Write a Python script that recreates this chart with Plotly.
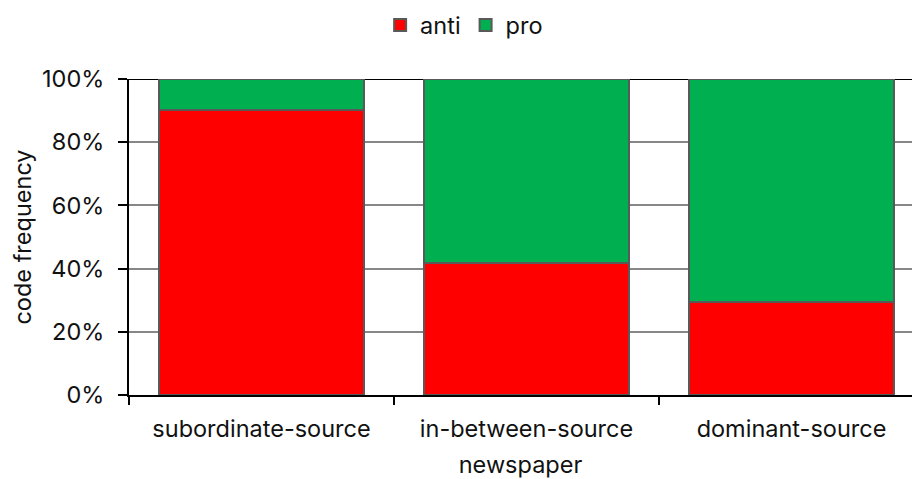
import plotly.graph_objects as go

categories = ["subordinate-source", "in-between-source", "dominant-source"]
anti = [90.1, 41.8, 29.3]
pro = [9.9, 58.2, 70.7]
y_ticks = [0, 20, 40, 60, 80, 100]
y_tick_labels = [f"{v}%" for v in y_ticks]

FONT = "Inter"
FS = 23.5
outline = dict(color="#595959", width=2)

fig = go.Figure()
fig.add_trace(go.Bar(x=categories, y=anti, name="anti",
                     marker=dict(color="#FF0000", line=outline), width=0.77))
fig.add_trace(go.Bar(x=categories, y=pro, name="pro",
                     marker=dict(color="#00B050", line=outline), width=0.77))

fig.update_layout(
    barmode="stack",
    width=912, height=479,
    margin=dict(l=129, r=0, t=79, b=84, autoexpand=False),
    plot_bgcolor="white", paper_bgcolor="white",
    font=dict(family=FONT, size=FS, color="#111111"),
    showlegend=True,
    legend=dict(orientation="h", x=0.428, xanchor="center", y=1.17, yanchor="middle",
                font=dict(size=FS), itemwidth=30, traceorder="normal"),
    xaxis=dict(
        type="category", range=[-0.5, 2.4547], tickson="boundaries",
        ticks="outside", ticklen=8, tickwidth=2, tickcolor="black",
        showline=True, linecolor="black", linewidth=2, showgrid=False,
        ticklabelstandoff=12,
        title=dict(text="newspaper", standoff=14, font=dict(size=FS)),
        automargin=False,
    ),
    yaxis=dict(
        range=[0, 100], tickvals=y_ticks, ticktext=y_tick_labels,
        ticks="outside", ticklen=9, tickwidth=2, tickcolor="black",
        showline=True, linecolor="black", linewidth=2,
        showgrid=True, gridcolor="#878787", gridwidth=1.5,
        ticklabelstandoff=9, zeroline=False,
        title=dict(text="code frequency", standoff=4, font=dict(size=FS)),
        automargin=False,
    ),
    shapes=[dict(type="line", xref="paper", yref="y", x0=0, x1=1, y0=100, y1=100,
                 line=dict(color="black", width=2), layer="below")],
)

fig.write_html("out.html")
